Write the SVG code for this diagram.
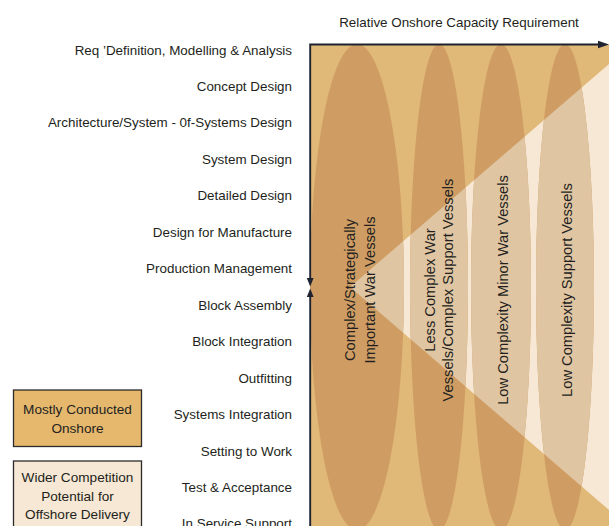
<svg xmlns="http://www.w3.org/2000/svg" width="609" height="526" viewBox="0 0 609 526">
  <style>
    text { font-family: "Liberation Sans", Arial, sans-serif; fill: #231f20; }
    .lab { font-size: 13.4px; text-anchor: end; }
    .vt { font-size: 14.7px; text-anchor: middle; }
    .lg { font-size: 13.6px; text-anchor: middle; }
    .axis { stroke: #1f2330; stroke-width: 1.9; fill: none; }
    .head { fill: #1f2330; }
    .ell-dark { fill: #cf9d63; }
    .ell-light { fill: #e0c5a2; }
  </style>
  <defs>
    <clipPath id="wedgeClip">
      <polygon points="350,287 609,64 609,510"/>
    </clipPath>
    <g id="ells">
      <ellipse cx="357" cy="287" rx="47" ry="243"/>
      <ellipse cx="439" cy="287" rx="29" ry="243"/>
      <ellipse cx="501" cy="287" rx="30" ry="243"/>
      <ellipse cx="565" cy="287" rx="29" ry="243"/>
    </g>
  </defs>
  <rect width="609" height="526" fill="#ffffff"/>

  <g id="plot">
    <rect x="310" y="44.5" width="299" height="481.5" fill="#e0b877"/>
    <polygon points="350,287 609,64 609,510" fill="#f6e8d4"/>
    <use href="#ells" class="ell-dark"/>
    <g clip-path="url(#wedgeClip)">
      <use href="#ells" class="ell-light"/>
    </g>
  </g>

  <g id="vessel-complex">
    <text class="vt" transform="translate(355,290) rotate(-90)">Complex/Strategically</text>
    <text class="vt" transform="translate(375,290) rotate(-90)">Important War Vessels</text>
  </g>
  <g id="vessel-less-complex">
    <text class="vt" transform="translate(435,290) rotate(-90)">Less Complex War</text>
    <text class="vt" transform="translate(453,290) rotate(-90)">Vessels/Complex Support Vessels</text>
  </g>
  <g id="vessel-minor-war">
    <text class="vt" transform="translate(508,290) rotate(-90)">Low Complexity Minor War Vessels</text>
  </g>
  <g id="vessel-support">
    <text class="vt" transform="translate(572,290) rotate(-90)">Low Complexity Support Vessels</text>
  </g>

  <g id="connectors">
    <polyline class="axis" points="310.2,278 310.2,44.5 599,44.5"/>
    <polygon class="head" points="598,40.7 609,44.5 598,48.3"/>
    <polygon class="head" points="306.8,278 313.6,278 310.2,286.5"/>
    <line class="axis" x1="310.2" y1="296" x2="310.2" y2="526"/>
    <polygon class="head" points="306.8,297 313.6,297 310.2,288.5"/>
  </g>

  <g id="title">
    <text x="459" y="26.5" font-size="13.4" text-anchor="middle">Relative Onshore Capacity Requirement</text>
  </g>

  <g id="stages">
    <text class="lab" x="292" y="54.5">Req ’Definition, Modelling &amp; Analysis</text>
    <text class="lab" x="292" y="91">Concept Design</text>
    <text class="lab" x="292" y="127.4">Architecture/System - 0f-Systems Design</text>
    <text class="lab" x="292" y="163.9">System Design</text>
    <text class="lab" x="292" y="200.3">Detailed Design</text>
    <text class="lab" x="292" y="236.8">Design for Manufacture</text>
    <text class="lab" x="292" y="273.2">Production Management</text>
    <text class="lab" x="292" y="309.7">Block Assembly</text>
    <text class="lab" x="292" y="346.1">Block Integration</text>
    <text class="lab" x="292" y="382.6">Outfitting</text>
    <text class="lab" x="292" y="419">Systems Integration</text>
    <text class="lab" x="292" y="455.5">Setting to Work</text>
    <text class="lab" x="292" y="491.9">Test &amp; Acceptance</text>
    <text class="lab" x="292" y="528.4">In Service Support</text>
  </g>

  <g id="legend-onshore">
    <rect x="13.5" y="390" width="128" height="56.5" fill="#e6b86e" stroke="#2b2b2b" stroke-width="1.3"/>
    <text class="lg" x="77.5" y="414">Mostly Conducted</text>
    <text class="lg" x="77.5" y="432.7">Onshore</text>
  </g>
  <g id="legend-offshore">
    <rect x="13.5" y="461" width="128" height="80" fill="#f6e8d4" stroke="#2b2b2b" stroke-width="1.3"/>
    <text class="lg" x="77.5" y="481.7">Wider Competition</text>
    <text class="lg" x="77.5" y="500.7">Potential for</text>
    <text class="lg" x="77.5" y="519.3">Offshore Delivery</text>
  </g>
</svg>
